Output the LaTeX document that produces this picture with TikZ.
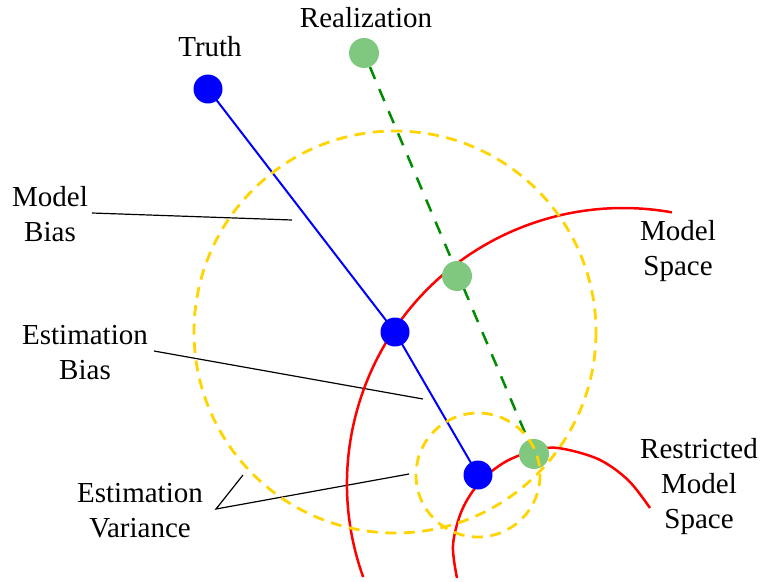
\documentclass[tikz,border=0pt]{standalone}
\usepackage{fontspec}
\setmainfont{Liberation Serif}
\usetikzlibrary{positioning,backgrounds}
\definecolor{sampgreen}{RGB}{128,200,128}
\definecolor{projgreen}{RGB}{0,140,0}
\definecolor{gold}{RGB}{255,212,0}

\begin{document}
\begin{tikzpicture}[
    x=1pt, y=-1pt,
    font=\fontsize{29}{35}\selectfont,
    truedot/.style={circle, fill=blue, inner sep=0pt, minimum size=29pt},
    realdot/.style={circle, fill=sampgreen, inner sep=0pt, minimum size=30pt},
    txt/.style={align=center, inner sep=0pt, anchor=base},
    leader/.style={line width=1.2pt},
    biasline/.style={blue, line width=2pt},
    spacecurve/.style={red, line width=2.5pt},
    varcircle/.style={gold, line width=2.8pt, dash pattern=on 11pt off 7.5pt},
    projline/.style={projgreen, line width=2.5pt, dash pattern=on 13pt off 11pt}
]
\useasboundingbox (0,0) rectangle (762,581);
% points
\node[truedot] (truth) at (208,89) {};
\node[truedot] (est) at (395,332) {};
\node[truedot] (restest) at (478,475) {};
\node[realdot] (real) at (364,53) {};
\node[realdot] (projm) at (457,276) {};
\node[realdot] (projr) at (534,454) {};
% labels (base = last line)
\node[txt] (truthlbl) at (210,56) {Truth};
\node[txt] (reallbl) at (366,27) {Realization};
\node[txt] (mbias) at (50,241) {Model\\Bias};
\node[txt] (ebias) at (85,379) {Estimation\\Bias};
\node[txt] (evar) at (140,537) {Estimation\\Variance};
\node[txt] (mspace) at (678,275) {Model\\Space};
\node[txt] (rspace) at (699,528) {Restricted\\Model\\Space};
\coordinate (mbiasstart) at (92,213);
\coordinate (mbiasend) at (292,220);
\coordinate (ebiasstart) at (154,351);
\coordinate (ebiasend) at (423,399);
\coordinate (evarfork) at (216,509);
\coordinate (evarbig) at (243,475);
\coordinate (evarsmall) at (409,474);
\coordinate (mctr) at (623,484);
\begin{scope}[on background layer]
\draw[leader] (mbiasstart) -- (mbiasend);
\draw[leader] (ebiasstart) -- (ebiasend);
\draw[leader] (evarbig) -- (evarfork) -- (evarsmall);
\draw[biasline] (truth.center) -- (est.center) -- (restest.center);
\draw[projline] (real) -- (projr.center);
\draw[spacecurve] (mctr) ++(160.3:276) arc[start angle=160.3, end angle=280.2, radius=276];
\draw[spacecurve] plot[smooth, tension=0.55] coordinates {(457,578) (453,545) (462,510) (480,482) (505,462) (533,451) (558,448) (598,459) (628,480) (650,508)};
\end{scope}
% variance circles
\draw[varcircle] (est.center) circle[radius=201];
\draw[varcircle] (restest.center) circle[radius=62];
\end{tikzpicture}
\end{document}
